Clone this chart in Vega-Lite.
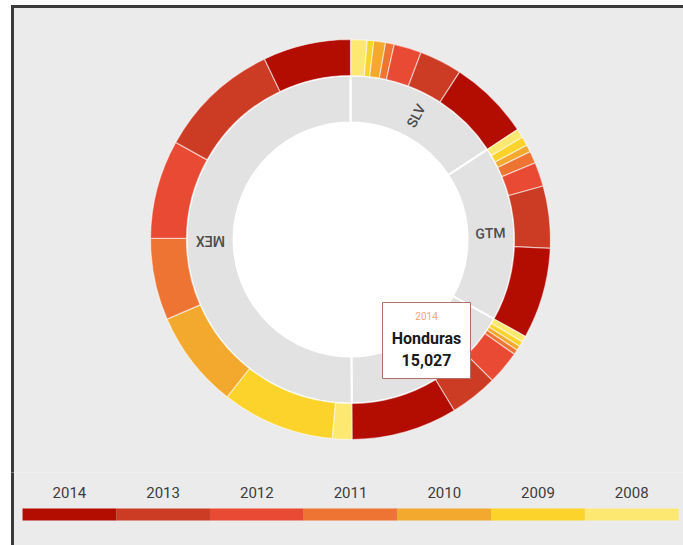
{
  "$schema": "https://vega.github.io/schema/vega-lite/v6.json",
  "background": "#ffffff",
  "padding": {"left": 10.5, "top": 4.5, "right": 0, "bottom": 0},
  "spacing": -5,
  "bounds": "flush",
  "config": {"font": "Roboto", "text": {"font": "Roboto"}},
  "datasets": {
    "uac": [
      {"country": "El Salvador", "code": "SLV", "year": 2008, "value": 2347},
      {"country": "El Salvador", "code": "SLV", "year": 2009, "value": 929},
      {"country": "El Salvador", "code": "SLV", "year": 2010, "value": 1663},
      {"country": "El Salvador", "code": "SLV", "year": 2011, "value": 1223},
      {"country": "El Salvador", "code": "SLV", "year": 2012, "value": 3912},
      {"country": "El Salvador", "code": "SLV", "year": 2013, "value": 6064},
      {"country": "El Salvador", "code": "SLV", "year": 2014, "value": 11492},
      {"country": "Guatemala", "code": "GTM", "year": 2008, "value": 1271},
      {"country": "Guatemala", "code": "GTM", "year": 2009, "value": 1268},
      {"country": "Guatemala", "code": "GTM", "year": 2010, "value": 1027},
      {"country": "Guatemala", "code": "GTM", "year": 2011, "value": 1712},
      {"country": "Guatemala", "code": "GTM", "year": 2012, "value": 3423},
      {"country": "Guatemala", "code": "GTM", "year": 2013, "value": 8802},
      {"country": "Guatemala", "code": "GTM", "year": 2014, "value": 12910},
      {"country": "Honduras", "code": "HND", "year": 2008, "value": 880},
      {"country": "Honduras", "code": "HND", "year": 2009, "value": 734},
      {"country": "Honduras", "code": "HND", "year": 2010, "value": 636},
      {"country": "Honduras", "code": "HND", "year": 2011, "value": 685},
      {"country": "Honduras", "code": "HND", "year": 2012, "value": 4792},
      {"country": "Honduras", "code": "HND", "year": 2013, "value": 6797},
      {"country": "Honduras", "code": "HND", "year": 2014, "value": 15027},
      {"country": "Mexico", "code": "MEX", "year": 2008, "value": 2787},
      {"country": "Mexico", "code": "MEX", "year": 2009, "value": 15990},
      {"country": "Mexico", "code": "MEX", "year": 2010, "value": 13888},
      {"country": "Mexico", "code": "MEX", "year": 2011, "value": 11638},
      {"country": "Mexico", "code": "MEX", "year": 2012, "value": 13985},
      {"country": "Mexico", "code": "MEX", "year": 2013, "value": 17311},
      {"country": "Mexico", "code": "MEX", "year": 2014, "value": 12421}
    ]
  },
  "vconcat": [
    {
      "width": 671,
      "height": 466,
      "view": {"fill": "#ebebeb", "stroke": "#3a3a3a", "strokeWidth": 3, "strokeDash": [671, 1137, 466]},
      "data": {"name": "uac"},
      "layer": [
        {
          "transform": [{"aggregate": [{"op": "count", "as": "n"}]}],
          "mark": {"type": "arc", "radius": 117, "theta": 0, "theta2": 6.2832, "fill": "#ffffff"},
          "encoding": {
            "x": {"datum": 0, "type": "quantitative", "scale": {"domain": [-1.69, 1.665], "nice": false, "zero": false}, "axis": null},
            "y": {"datum": 0, "type": "quantitative", "scale": {"domain": [-1.165, 1.165], "nice": false, "zero": false}, "axis": null}
          }
        },
        {
          "transform": [{"aggregate": [{"op": "sum", "field": "value", "as": "total"}], "groupby": ["country", "code"]}],
          "mark": {"type": "arc", "radius": 164, "radius2": 117, "fill": "#e2e2e2", "stroke": "#ffffff", "strokeWidth": 2},
          "encoding": {
            "theta": {"field": "total", "type": "quantitative", "stack": true, "scale": {"nice": false}},
            "order": {"field": "country"},
            "x": {"datum": 0, "type": "quantitative", "scale": {"domain": [-1.69, 1.665], "nice": false, "zero": false}, "axis": null},
            "y": {"datum": 0, "type": "quantitative", "scale": {"domain": [-1.165, 1.165], "nice": false, "zero": false}, "axis": null}
          }
        },
        {
          "transform": [{"stack": "value", "groupby": [], "sort": [{"field": "country"}, {"field": "year"}], "as": ["v0", "v1"]}],
          "mark": {"type": "arc", "radius": 200, "radius2": 164, "stroke": "#ffffff", "strokeOpacity": 0.55, "strokeWidth": 1.2},
          "encoding": {
            "theta": {"field": "v0", "type": "quantitative", "scale": {"nice": false}},
            "theta2": {"field": "v1"},
            "color": {"field": "year", "type": "ordinal", "scale": {"domain": [2014, 2013, 2012, 2011, 2010, 2009, 2008], "range": ["#b30c00", "#cc3b24", "#e94a33", "#ee7433", "#f3a92e", "#fbd32b", "#fde872"]}, "legend": null},
            "x": {"datum": 0, "type": "quantitative", "scale": {"domain": [-1.69, 1.665], "nice": false, "zero": false}, "axis": null},
            "y": {"datum": 0, "type": "quantitative", "scale": {"domain": [-1.165, 1.165], "nice": false, "zero": false}, "axis": null}
          }
        },
        {
          "transform": [{"aggregate": [{"op": "sum", "field": "value", "as": "total"}], "groupby": ["country", "code"]}],
          "mark": {"type": "text", "radius": 140, "fontSize": 14, "fontWeight": 500, "fill": "#4d4d4d", "align": "center", "baseline": "middle"},
          "encoding": {
            "theta": {"field": "total", "type": "quantitative", "stack": true, "scale": {"nice": false}},
            "order": {"field": "country"},
            "text": {"field": "code", "type": "nominal", "condition": {"test": "datum.country === 'Honduras'", "value": ""}},
            "angle": {
              "condition": [
                {"test": "datum.country === 'Mexico'", "value": 180},
                {"test": "datum.country === 'El Salvador'", "value": -62},
                {"test": "datum.country === 'Honduras'", "value": 60}
              ],
              "value": -2
            },
            "x": {"datum": 0, "type": "quantitative", "scale": {"domain": [-1.69, 1.665], "nice": false, "zero": false}, "axis": null},
            "y": {"datum": 0, "type": "quantitative", "scale": {"domain": [-1.165, 1.165], "nice": false, "zero": false}, "axis": null}
          }
        },
        {
          "transform": [{"filter": "datum.country === 'Honduras' && datum.year === 2014"}],
          "mark": {"type": "rect", "fill": "#ffffff", "stroke": "#b07068", "strokeWidth": 1},
          "encoding": {
            "x": {"datum": 0.16, "type": "quantitative", "scale": {"domain": [-1.69, 1.665], "nice": false, "zero": false}, "axis": null},
            "x2": {"datum": 0.6},
            "y": {"datum": -0.315, "type": "quantitative", "scale": {"domain": [-1.165, 1.165], "nice": false, "zero": false}, "axis": null},
            "y2": {"datum": -0.695}
          }
        },
        {
          "transform": [{"filter": "datum.country === 'Honduras' && datum.year === 2014"}],
          "mark": {"type": "text", "fontSize": 10, "fill": "#f0a878", "align": "center", "baseline": "middle"},
          "encoding": {
            "text": {"field": "year", "type": "nominal"},
            "x": {"datum": 0.38, "type": "quantitative", "scale": {"domain": [-1.69, 1.665], "nice": false, "zero": false}, "axis": null},
            "y": {"datum": -0.3875, "type": "quantitative", "scale": {"domain": [-1.165, 1.165], "nice": false, "zero": false}, "axis": null}
          }
        },
        {
          "transform": [{"filter": "datum.country === 'Honduras' && datum.year === 2014"}],
          "mark": {"type": "text", "fontSize": 16, "fontWeight": "bold", "fill": "#1a1a1a", "align": "center", "baseline": "middle"},
          "encoding": {
            "text": {"field": "country", "type": "nominal"},
            "x": {"datum": 0.38, "type": "quantitative", "scale": {"domain": [-1.69, 1.665], "nice": false, "zero": false}, "axis": null},
            "y": {"datum": -0.495, "type": "quantitative", "scale": {"domain": [-1.165, 1.165], "nice": false, "zero": false}, "axis": null}
          }
        },
        {
          "transform": [{"filter": "datum.country === 'Honduras' && datum.year === 2014"}],
          "mark": {"type": "text", "fontSize": 16, "fontWeight": "bold", "fill": "#1a1a1a", "align": "center", "baseline": "middle"},
          "encoding": {
            "text": {"field": "value", "type": "quantitative", "format": ","},
            "x": {"datum": 0.38, "type": "quantitative", "scale": {"domain": [-1.69, 1.665], "nice": false, "zero": false}, "axis": null},
            "y": {"datum": -0.605, "type": "quantitative", "scale": {"domain": [-1.165, 1.165], "nice": false, "zero": false}, "axis": null}
          }
        }
      ]
    },
    {
      "width": 671,
      "height": 78,
      "view": {"fill": "#ebebeb", "stroke": "#3a3a3a", "strokeWidth": 3, "strokeDash": [0, 1420, 78]},
      "data": {"name": "uac"},
      "transform": [{"aggregate": [{"op": "count", "as": "n"}], "groupby": ["year"]}],
      "encoding": {
        "x": {"field": "year", "type": "ordinal", "sort": "descending", "scale": {"paddingInner": 0, "paddingOuter": 0.08, "align": 0.67}, "axis": null}
      },
      "layer": [
        {
          "mark": {"type": "rect"},
          "encoding": {
            "y": {"datum": "swatch", "type": "nominal", "scale": {"type": "band", "domain": ["label", "swatch"], "range": [14, 48], "paddingInner": 0.4545, "paddingOuter": 0}, "axis": null},
            "color": {"field": "year", "type": "ordinal", "scale": {"domain": [2014, 2013, 2012, 2011, 2010, 2009, 2008], "range": ["#b30c00", "#cc3b24", "#e94a33", "#ee7433", "#f3a92e", "#fbd32b", "#fde872"]}, "legend": null}
          }
        },
        {
          "mark": {"type": "text", "fontSize": 15, "fill": "#3d3d3d", "align": "center", "baseline": "middle"},
          "encoding": {
            "y": {"datum": "label", "type": "nominal", "scale": {"type": "band", "domain": ["label", "swatch"], "range": [14, 48], "paddingInner": 0.4545, "paddingOuter": 0}, "axis": null},
            "text": {"field": "year", "type": "nominal"}
          }
        }
      ]
    }
  ]
}
